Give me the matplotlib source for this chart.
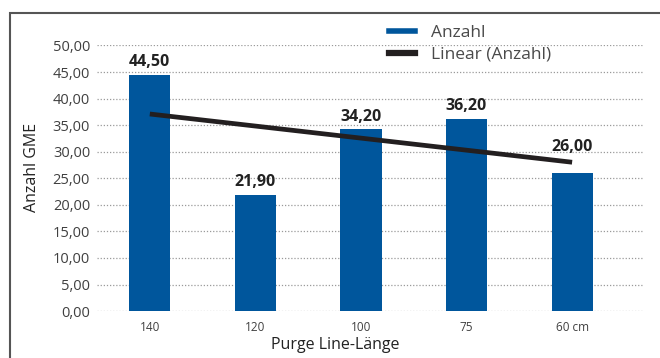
import numpy as np
import matplotlib.pyplot as plt
from matplotlib.patches import Rectangle
from matplotlib.lines import Line2D

plt.rcParams['font.family'] = ['Open Sans', 'DejaVu Sans']

# Daten
laengen = ["140", "120", "100", "75", "60 cm"]
anzahl = [44.50, 21.90, 34.20, 36.20, 26.00]
y_ticks = [0, 5, 10, 15, 20, 25, 30, 35, 40, 45, 50]

blau = "#00569c"
schwarz = "#231f20"
grau = "#404040"

def komma(v):
    return f"{v:.2f}".replace(".", ",")

fig = plt.figure(figsize=(6.6, 3.58), dpi=100)
ax = fig.add_axes([0.147, 0.131, 0.827, 0.742])

x = np.arange(len(laengen))
ax.bar(x, anzahl, width=0.39, color=blau, zorder=3)

# lineare Trendlinie
m, b = np.polyfit(x + 1, anzahl, 1)
trend = m * (x + 1) + b
ax.plot(x, trend, color=schwarz, lw=3.4, zorder=4, solid_capstyle='butt')

# Werte über den Balken, nicht auf der Trendlinie
for xi, v, t in zip(x, anzahl, trend):
    y = v + 0.9
    if y - 1.0 < t < y + 3.5:
        y = t + 1.4
    ax.text(xi, y, komma(v), ha='center', va='bottom', fontsize=11.5,
            fontweight='bold', color="#222222", zorder=5)

ax.set_xlim(-0.5, 4.67)
ax.set_ylim(0, 50)
ax.set_yticks(y_ticks)
ax.set_yticklabels([komma(t) for t in y_ticks], fontsize=10.5, color=grau)
ax.set_xticks(x)
ax.set_xticklabels(laengen, fontsize=8.5, color=grau)
ax.tick_params(length=0, pad=5)
ax.tick_params(axis='x', pad=7)
ax.yaxis.grid(True, linestyle=(0, (1, 1.5)), color="#9a9a9a", lw=0.9, zorder=0)
for s in ax.spines.values():
    s.set_visible(False)

ax.set_xlabel("Purge Line-Länge", fontsize=11.5, color="#222222", va='center')
ax.xaxis.set_label_coords(0.437, -0.128)
ax.set_ylabel("Anzahl GME", fontsize=11.5, color="#222222", va='center')
ax.yaxis.set_label_coords(-0.119, 0.542)

handles = [Line2D([], [], color=blau, lw=4), Line2D([], [], color=schwarz, lw=4.5)]
fig.legend(handles, ["Anzahl", "Linear (Anzahl)"], loc='upper left',
           bbox_to_anchor=(0.565, 0.975), frameon=False, fontsize=12.5,
           labelcolor="#4a4a4a", handlelength=1.55, handletextpad=0.9,
           labelspacing=0.35)

# Rahmen
fig.patches.append(Rectangle((10 / 660, -0.05), 1.0, 0.05 + (358 - 13) / 358,
                             transform=fig.transFigure, fill=False,
                             edgecolor="#555555", lw=1.5))

fig.savefig("out.png", dpi=100)
